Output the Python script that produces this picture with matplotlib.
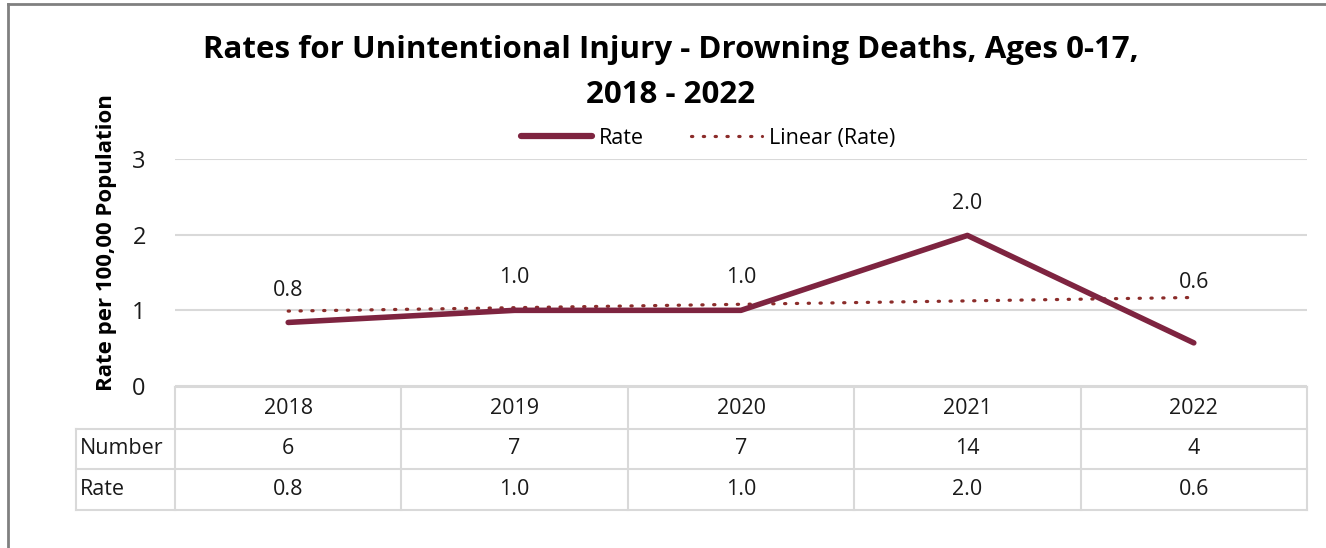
"""
Rates for unintentional injury - drowning deaths, ages 0-17, 2018-2022
Line chart with linear trendline and a data table under the axis.
"""
import numpy as np
import matplotlib
matplotlib.use("Agg")
import matplotlib.pyplot as plt
import matplotlib.transforms as mtransforms
from matplotlib.lines import Line2D

years = ["2018", "2019", "2020", "2021", "2022"]
rate = [0.84, 1.0, 1.0, 1.99, 0.57]
rate_labels = ["0.8", "1.0", "1.0", "2.0", "0.6"]
numbers = ["6", "7", "7", "14", "4"]
table_rates = ["0.8", "1.0", "1.0", "2.0", "0.6"]

LINE_COLOR = "#7E2440"
TREND_COLOR = "#8B2C2A"
GRID_COLOR = "#d9d9d9"
TXT = "#1a1a1a"
FS = 15.5
plt.rcParams["font.family"] = ["Open Sans", "DejaVu Sans"]

W, H = 1326, 548
fig = plt.figure(figsize=(W / 100, H / 100), dpi=100)


def fx(px):
    return px / W


def fy(py):
    return 1 - py / H


# plot area in pixels
left_px, right_px, top_px, bottom_px = 175, 1307, 159, 386
ax = fig.add_axes([fx(left_px), fy(bottom_px), fx(right_px - left_px), (bottom_px - top_px) / H])

x = np.arange(len(years))
DOTS = (0, (0.4, 3.3))
ax.plot(x, rate, color=LINE_COLOR, lw=4, solid_capstyle="round", zorder=3)
coef = np.polyfit(x, rate, 1)
ax.plot(x, np.polyval(coef, x), color=TREND_COLOR, lw=2.3, ls=DOTS,
        dash_capstyle="round", zorder=2)

# data labels (pixel offsets above the point)
offsets = [32, 33, 33, 32, 60]
for xi, yi, lab, off in zip(x, rate, rate_labels, offsets):
    ax.annotate(lab, (xi, yi), xytext=(0, off * 0.72), textcoords="offset points",
                ha="center", va="center", fontsize=FS, color=TXT)

ax.set_xlim(-0.5, len(years) - 0.5)
ax.set_ylim(0, 3)
ax.set_yticks([0, 1, 2, 3])
ax.yaxis.grid(True, color=GRID_COLOR, lw=1.5)
ax.set_axisbelow(True)
for s in ax.spines.values():
    s.set_visible(False)
ax.set_xticks([])
ax.tick_params(axis="y", length=0, pad=21, labelsize=17, labelcolor=TXT)

# table under the axis
tr = mtransforms.blended_transform_factory(ax.transData, fig.transFigure)
rows_px = [387, 429, 469, 510]
tl_px = 76
lkw = dict(color=GRID_COLOR, lw=1.5, clip_on=False)
# horizontal lines
fig.add_artist(Line2D([fx(left_px), fx(right_px)], [fy(rows_px[0])] * 2, transform=fig.transFigure, **lkw))
for r in rows_px[1:]:
    fig.add_artist(Line2D([fx(tl_px), fx(right_px)], [fy(r)] * 2, transform=fig.transFigure, **lkw))
# vertical lines
fig.add_artist(Line2D([fx(tl_px)] * 2, [fy(rows_px[1]), fy(rows_px[3])], transform=fig.transFigure, **lkw))
for b in np.arange(len(years) + 1) - 0.5:
    fig.add_artist(Line2D([b, b], [fy(rows_px[0]), fy(rows_px[3])], transform=tr, **lkw))

row_centers = [(rows_px[i] + rows_px[i + 1]) / 2 for i in range(3)]
for i in range(len(years)):
    fig.text(i, fy(row_centers[0]), years[i], transform=tr, ha="center", va="center", fontsize=FS, color=TXT)
    fig.text(i, fy(row_centers[1]), numbers[i], transform=tr, ha="center", va="center", fontsize=FS, color=TXT)
    fig.text(i, fy(row_centers[2]), table_rates[i], transform=tr, ha="center", va="center", fontsize=FS, color=TXT)
fig.text(fx(80), fy(row_centers[1]), "Number", ha="left", va="center", fontsize=FS, color=TXT)
fig.text(fx(80), fy(row_centers[2]), "Rate", ha="left", va="center", fontsize=FS, color=TXT)

# titles
fig.text(fx(671), fy(50), "Rates for Unintentional Injury - Drowning Deaths, Ages 0-17,",
         ha="center", va="center", fontsize=22.5, fontweight="bold", color="black")
fig.text(fx(671), fy(95), "2018 - 2022", ha="center", va="center", fontsize=22.5,
         fontweight="bold", color="black")
fig.text(fx(107), fy(243), "Rate per 100,00 Population", rotation=90,
         ha="center", va="center", fontsize=16, fontweight="bold", color="black")

# legend
handles = [Line2D([], [], color=LINE_COLOR, lw=4.5, solid_capstyle="round"),
           Line2D([], [], color=TREND_COLOR, lw=2.3, ls=DOTS, dash_capstyle="round")]
fig.legend(handles, ["Rate", "Linear (Rate)"], loc="center", bbox_to_anchor=(fx(708), fy(138)),
           ncol=2, frameon=False, fontsize=FS, handlelength=3.3, handletextpad=0.3,
           columnspacing=2.2)

# outer frame
fig.add_artist(Line2D([fx(8), fx(8)], [fy(4), 0], transform=fig.transFigure, color="#808080", lw=2))
fig.add_artist(Line2D([fx(8), 1], [fy(4), fy(4)], transform=fig.transFigure, color="#808080", lw=2))

fig.savefig("out.png", dpi=100)
